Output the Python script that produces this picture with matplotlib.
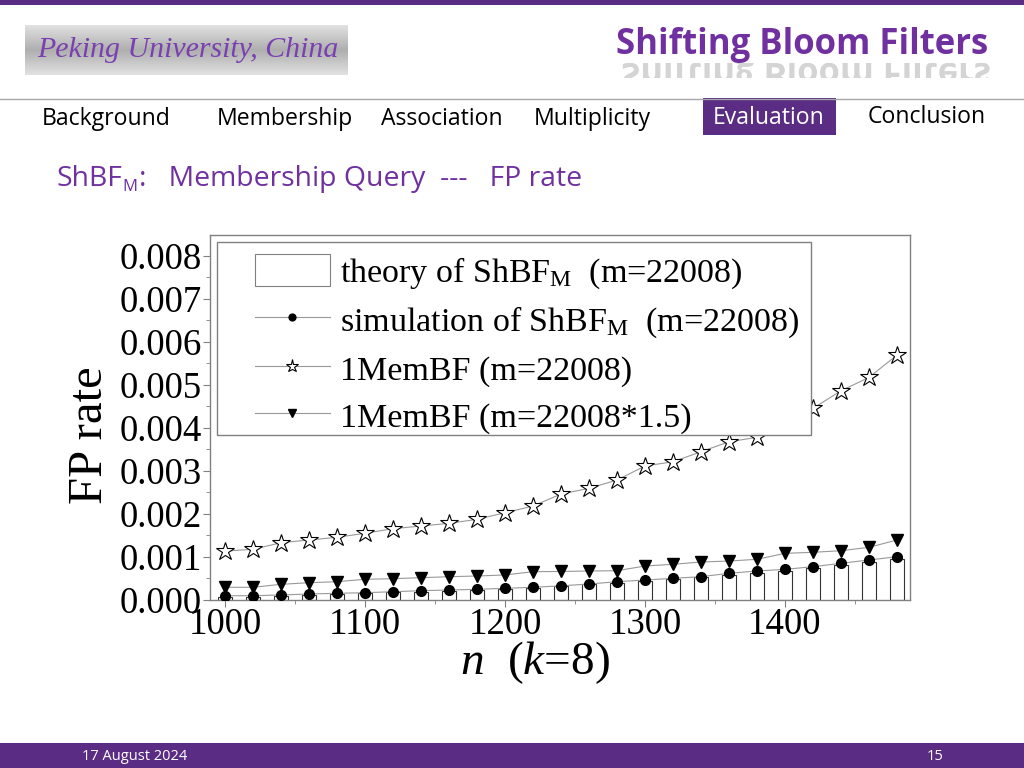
import numpy as np
import matplotlib
matplotlib.use('Agg')
from matplotlib import pyplot as plt
from matplotlib.patches import Rectangle, PathPatch
from matplotlib.textpath import TextPath
from matplotlib.font_manager import FontProperties
from matplotlib.transforms import Affine2D

plt.rcParams['mathtext.fontset'] = 'custom'
plt.rcParams['mathtext.rm'] = 'Liberation Serif'
plt.rcParams['mathtext.it'] = 'Liberation Serif:italic'

# data (FP rate values in units of 1e-3)
n_vals = [1000, 1020, 1040, 1060, 1080, 1100, 1120, 1140, 1160, 1180, 1200, 1220, 1240,
          1260, 1280, 1300, 1320, 1340, 1360, 1380, 1400, 1420, 1440, 1460, 1480]
theory = [0.065, 0.065, 0.081, 0.105, 0.121, 0.144, 0.167, 0.181, 0.205, 0.221, 0.244, 0.267, 0.305,
          0.353, 0.391, 0.437, 0.477, 0.516, 0.570, 0.623, 0.670, 0.726, 0.802, 0.872, 0.935]
simulation = [0.088, 0.088, 0.105, 0.128, 0.144, 0.158, 0.181, 0.205, 0.221, 0.237, 0.260, 0.284, 0.318,
              0.360, 0.414, 0.453, 0.493, 0.530, 0.609, 0.663, 0.702, 0.763, 0.842, 0.919, 0.995]
onemem = [1.128, 1.167, 1.321, 1.384, 1.447, 1.540, 1.647, 1.709, 1.772, 1.865, 2.019, 2.174, 2.453,
          2.586, 2.779, 3.105, 3.205, 3.437, 3.670, 3.772, 4.050, 4.447, 4.856, 5.167, 5.686]
onemem15 = [0.284, 0.284, 0.353, 0.391, 0.414, 0.470, 0.484, 0.507, 0.530, 0.547, 0.570, 0.647, 0.652,
            0.663, 0.670, 0.779, 0.819, 0.872, 0.895, 0.935, 1.074, 1.098, 1.135, 1.214, 1.384]

n = np.array(n_vals)
scale = 1e-3

purple_dark = '#5B2C83'
purple = '#7030A0'

fig = plt.figure(figsize=(10.24, 7.68), dpi=100)
rend = fig.canvas.get_renderer()

# slide background layer in pixel coords
bg = fig.add_axes([0, 0, 1, 1], zorder=0)
bg.set_xlim(0, 1024)
bg.set_ylim(768, 0)
bg.axis('off')

bg.add_patch(Rectangle((0, 0), 1024, 5, color=purple_dark, lw=0))
bg.add_patch(Rectangle((0, 743), 1024, 25, color=purple_dark, lw=0))
bg.plot([0, 1024], [98.5, 98.5], color='#a6a6a6', lw=1)

# logo
rows = np.abs(np.linspace(-1, 1, 50))
grad = np.ones((50, 60)) * (0.68 + 0.2 * rows[:, None])
bg.imshow(grad, cmap='gray', vmin=0, vmax=1, extent=(25, 348, 75, 25), aspect='auto', zorder=1)
bg.text(188, 50, 'Peking University, China', family='Liberation Serif', style='italic',
        fontsize=21.5, color='#7a3fb0', ha='center', va='center', zorder=2)

# title + reflection
bg.text(988, 45, 'Shifting Bloom Filters', family='Open Sans', weight='bold', fontsize=25,
        color=purple, ha='right', va='center')
fp = FontProperties(family='Open Sans', weight='bold')
tp = TextPath((0, 0), 'Shifting Bloom Filters', size=34.5, prop=fp)
w = tp.get_extents().width
refl = PathPatch(Affine2D().translate(988 - w, 63).transform_path(tp), color='#d4d4d4', lw=0)
bg.add_patch(refl)
clip = Rectangle((600, 63), 400, 15, transform=bg.transData)
refl.set_clip_path(clip)

# nav
nav_font = dict(family='Open Sans', fontsize=16.6, va='baseline')
bg.text(42, 125, 'Background', color='black', **nav_font)
bg.text(217, 125, 'Membership', color='black', **nav_font)
bg.text(381, 125, 'Association', color='black', **nav_font)
bg.text(534, 125, 'Multiplicity', color='black', **nav_font)
bg.add_patch(Rectangle((703, 98), 133, 37, color=purple_dark, lw=0))
bg.text(769, 124, 'Evaluation', color='white', ha='center', **nav_font)
bg.text(868, 123, 'Conclusion', color='black', **nav_font)

# subtitle
sub_font = dict(family='Open Sans', fontsize=20.4, color=purple, va='baseline')
t1 = bg.text(56, 186, 'ShBF', **sub_font)
x1 = t1.get_window_extent(rend).x1
t2 = bg.text(x1 + 1, 191, 'M', family='Open Sans', fontsize=12, color=purple, va='baseline')
x2 = t2.get_window_extent(rend).x1
bg.text(x2 + 1, 186, ':   Membership Query  ---   FP rate', **sub_font)

# footer
bg.text(82, 756, '17 August 2024', family='Open Sans', fontsize=10.5, color='white', va='center')
bg.text(935, 756, '15', family='Open Sans', fontsize=10.5, color='white', va='center', ha='center')

# chart
ax = fig.add_axes([210 / 1024, 1 - 599.5 / 768, 700 / 1024, 364.5 / 768], zorder=2)
serif = 'Liberation Serif'

bars = ax.bar(n, np.array(theory) * scale, width=10, color='white', edgecolor='#333333', linewidth=0.8,
              label=r'theory of ShBF$_\mathregular{M}$  (m=22008)', zorder=2)
l1, = ax.plot(n, np.array(simulation) * scale, color='#999999', lw=0.8, marker='o', ms=7,
              mfc='black', mec='black', label=r'simulation of ShBF$_\mathregular{M}$  (m=22008)', zorder=3)
l2, = ax.plot(n, np.array(onemem) * scale, color='#999999', lw=0.8, marker='*', ms=13.5,
              mfc='white', mec='black', mew=0.8, label='1MemBF (m=22008)', zorder=3)
l3, = ax.plot(n, np.array(onemem15) * scale, color='#999999', lw=0.8, marker='v', ms=9,
              mfc='black', mec='black', label='1MemBF (m=22008*1.5)', zorder=3)

ax.set_xlim(989.3, 1489.3)
ax.set_ylim(0, 0.00848)
ax.set_xticks([1000, 1100, 1200, 1300, 1400])
ax.set_xticks(np.arange(1050, 1489, 100), minor=True)
ax.set_yticks(np.arange(0, 0.0081, 0.001))
ax.set_yticks(np.arange(0.0005, 0.0085, 0.001), minor=True)
ax.set_yticklabels([f'{v:.3f}' for v in np.arange(0, 0.0081, 0.001)])
for lab in ax.get_xticklabels() + ax.get_yticklabels():
    lab.set_family(serif)
    lab.set_fontsize(26.5)
ax.tick_params(axis='both', which='major', length=5, color='#808080', pad=1)
ax.tick_params(axis='both', which='minor', length=3, color='#808080')
for sp in ax.spines.values():
    sp.set_color('#808080')
    sp.set_linewidth(1)

ax.set_ylabel('FP rate', family=serif, fontsize=35)
ax.yaxis.set_label_coords(-0.14, 0.451)
ax.set_xlabel(r'$n$  ($k$=8)', family=serif, fontsize=34)
ax.xaxis.set_label_coords(0.464, -0.108)

# legend box drawn separately, content placed inside it
box = Rectangle((7 / 700, 164.5 / 364.5), 594 / 700, 193 / 364.5, transform=ax.transAxes,
                facecolor='white', edgecolor='#808080', lw=1, zorder=4, clip_on=False)
ax.add_patch(box)
leg = ax.legend([bars, l1, l2, l3], [h.get_label() for h in (bars, l1, l2, l3)],
                loc='upper left', bbox_to_anchor=(45 / 700, 0.949), borderaxespad=0,
                prop={'family': serif, 'size': 24.5}, frameon=False,
                handlelength=2.2, handleheight=1.1, handletextpad=0.3,
                labelspacing=0.35, borderpad=0, markerscale=0.7)
leg.set_zorder(5)
for h in leg.legend_handles:
    if isinstance(h, Rectangle):
        h.set_edgecolor('#808080')

plt.savefig('out.png', dpi=100)
